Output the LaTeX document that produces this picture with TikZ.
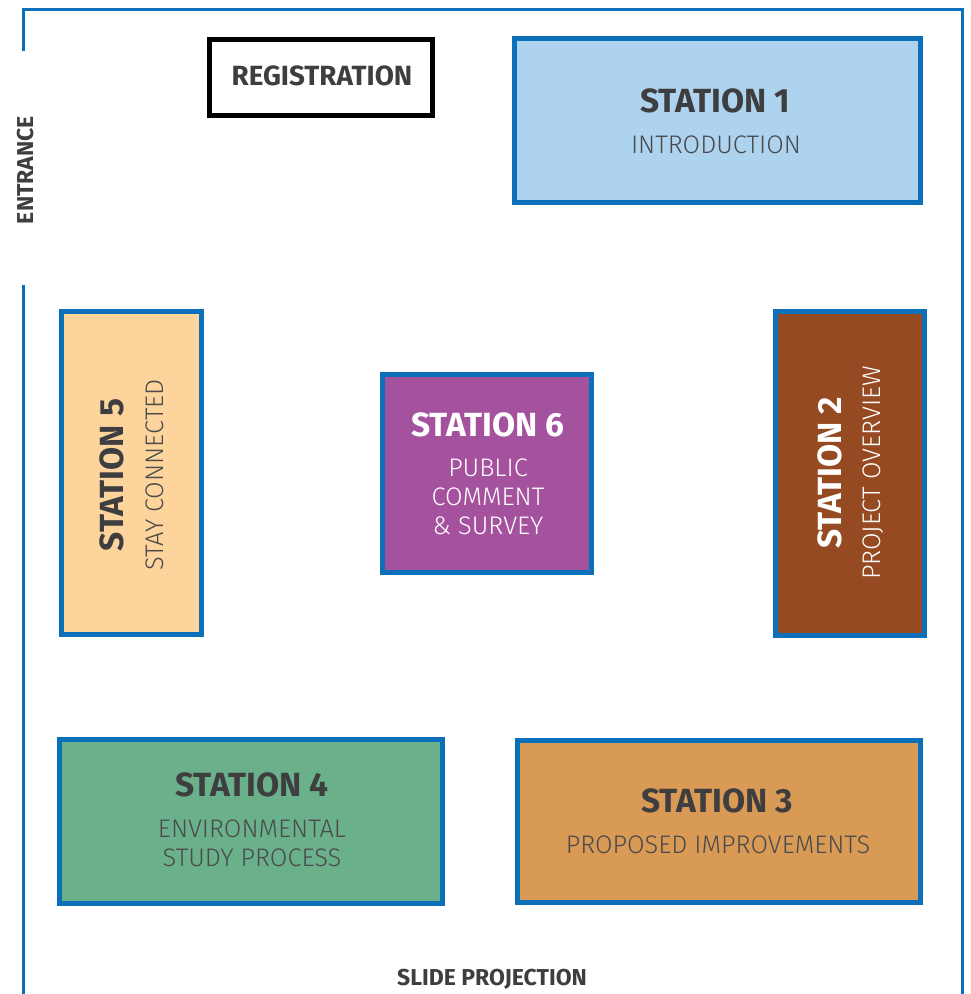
\documentclass[tikz,border=0pt]{standalone}
\usepackage{fontspec}
\setmainfont{Fira Sans}
\newfontfamily\lightfont{Fira Sans Light}
\definecolor{wallblue}{HTML}{0B6FBA}
\definecolor{darktext}{HTML}{3E3E40}
\definecolor{lighttext}{HTML}{4A4A4C}
\definecolor{fillone}{HTML}{ADD3EF}
\definecolor{filltwo}{HTML}{964A22}
\definecolor{fillthree}{HTML}{D99A55}
\definecolor{fillfour}{HTML}{6AB08A}
\definecolor{fillfive}{HTML}{FDD49B}
\definecolor{fillsix}{HTML}{A5529E}
\begin{document}
\begin{tikzpicture}[x=1pt,y=-1pt,
  wall/.style={draw=wallblue,line width=3pt},
  stationbox/.style={draw=wallblue,line width=5pt,inner sep=0pt,rectangle},
  titletext/.style={font=\fontsize{33.5}{33.5}\selectfont\bfseries,inner sep=0pt,anchor=center},
  subtext/.style={font=\lightfont\fontsize{25.4}{29}\selectfont,inner sep=0pt,anchor=center,align=center},
  labeltext/.style={font=\fontsize{23}{23}\selectfont\bfseries,text=darktext,inner sep=0pt}]
\useasboundingbox (0,0) rectangle (970,994);
% walls
\coordinate (wtl) at (23,9.5);
\coordinate (wtr) at (962,9.5);
\coordinate (wl1) at (23,51);
\coordinate (wl2) at (23,285);
\coordinate (wlb) at (23,994);
\coordinate (wrb) at (962,994);
\draw[wall] (wl1) -- (wtl) -- (wtr) -- (wrb);
\draw[wall] (wl2) -- (wlb);
% registration
\node[draw=black,line width=4.5pt,inner sep=0pt,minimum width=223pt,minimum height=76pt] (reg) at (321,77.5) {};
\node[font=\fontsize{27.8}{27.8}\selectfont\bfseries,text=darktext,inner sep=0pt] (regt) at (322,76) {REGISTRATION};
% station 1
\node[stationbox,fill=fillone,minimum width=406pt,minimum height=164pt] (s1) at (717.5,120.5) {};
\node[titletext,text=darktext] (s1t) at (715,101) {STATION 1};
\node[subtext,text=lighttext] (s1s) at (716,145) {INTRODUCTION};
% station 5
\node[stationbox,fill=fillfive,minimum width=140pt,minimum height=323pt] (s5) at (131.5,473) {};
\node[titletext,text=darktext,rotate=90] (s5t) at (112,475) {STATION 5};
\node[subtext,text=lighttext,rotate=90] (s5s) at (155,475) {STAY CONNECTED};
% station 6
\node[stationbox,fill=fillsix,minimum width=209pt,minimum height=198pt] (s6) at (487,473.5) {};
\node[titletext,text=white] (s6t) at (488,425) {STATION 6};
\node[subtext,text=white] (s6s) at (488,497) {PUBLIC\\COMMENT\\\& SURVEY};
% station 2
\node[stationbox,fill=filltwo,minimum width=149pt,minimum height=324pt] (s2) at (850,473.5) {};
\node[titletext,text=white,rotate=90] (s2t) at (830,473) {STATION 2};
\node[subtext,text=white,rotate=90] (s2s) at (873,473) {PROJECT OVERVIEW};
% station 4
\node[stationbox,fill=fillfour,minimum width=383pt,minimum height=164pt] (s4) at (251,821.5) {};
\node[titletext,text=darktext] (s4t) at (252,785) {STATION 4};
\node[subtext,text=lighttext] (s4s) at (252,843) {ENVIRONMENTAL\\STUDY PROCESS};
% station 3
\node[stationbox,fill=fillthree,minimum width=403pt,minimum height=162pt] (s3) at (719,821.5) {};
\node[titletext,text=darktext] (s3t) at (717,801) {STATION 3};
\node[subtext,text=lighttext] (s3s) at (718,845) {PROPOSED IMPROVEMENTS};
% labels
\node[labeltext,rotate=90] (ent) at (26,170) {ENTRANCE};
\node[labeltext] (slide) at (492,979) {SLIDE PROJECTION};
\end{tikzpicture}
\end{document}
